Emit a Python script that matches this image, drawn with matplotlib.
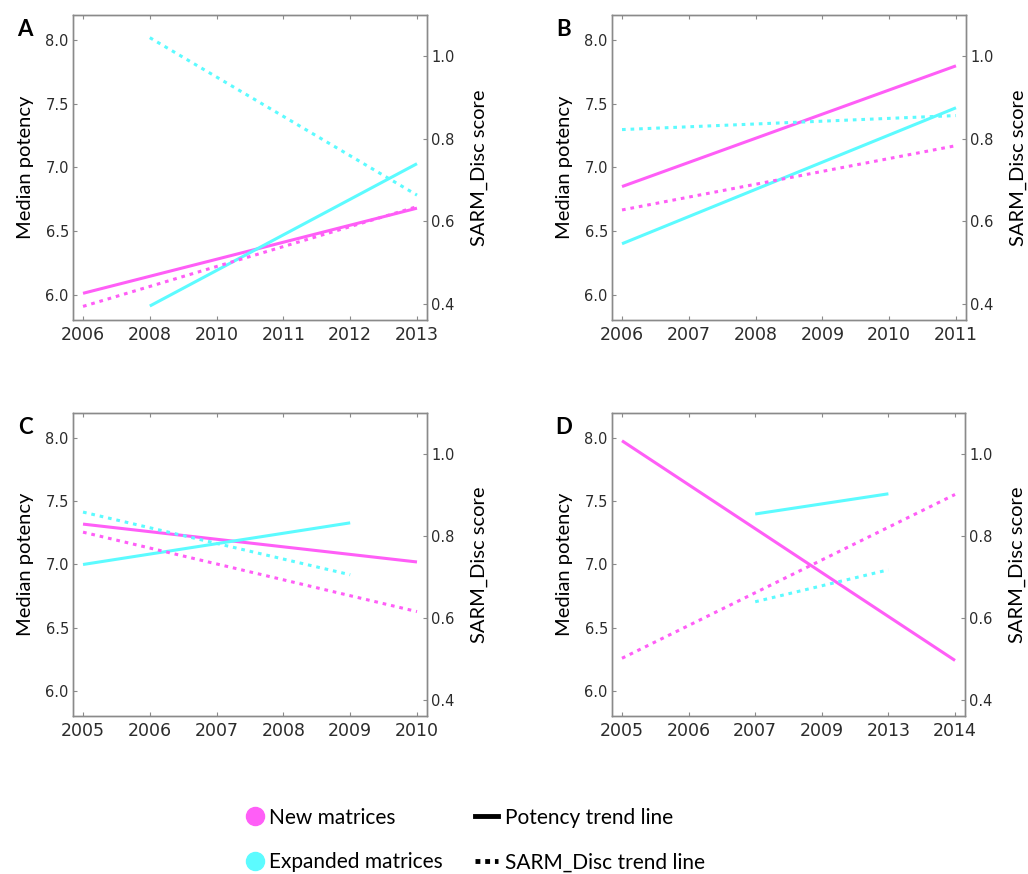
import matplotlib
matplotlib.use("Agg")
import matplotlib.pyplot as plt
from matplotlib.lines import Line2D

MAGENTA = "#FF5EF7"
CYAN = "#5CFBFF"

panels = ["A", "B", "C", "D"]
year_labels = {
    "A": ["2006", "2008", "2010", "2011", "2012", "2013"],
    "B": ["2006", "2007", "2008", "2009", "2010", "2011"],
    "C": ["2005", "2006", "2007", "2008", "2009", "2010"],
    "D": ["2005", "2006", "2007", "2009", "2013", "2014"],
}
# trend line endpoints: (start index, end index), (start value, end value)
new_potency = {
    "A": ((0, 5), (6.01, 6.68)),
    "B": ((0, 5), (6.85, 7.80)),
    "C": ((0, 5), (7.32, 7.02)),
    "D": ((0, 5), (7.98, 6.24)),
}
new_sarm = {
    "A": ((0, 5), (0.393, 0.635)),
    "B": ((0, 5), (0.627, 0.783)),
    "C": ((0, 5), (0.809, 0.615)),
    "D": ((0, 5), (0.501, 0.901)),
}
exp_potency = {
    "A": ((1, 5), (5.91, 7.03)),
    "B": ((0, 5), (6.40, 7.47)),
    "C": ((0, 4), (7.00, 7.33)),
    "D": ((2, 4), (7.40, 7.56)),
}
exp_sarm = {
    "A": ((1, 5), (1.045, 0.663)),
    "B": ((0, 5), (0.822, 0.856)),
    "C": ((0, 4), (0.858, 0.705)),
    "D": ((2, 4), (0.639, 0.717)),
}
left_ticks = [6.0, 6.5, 7.0, 7.5, 8.0]
right_ticks = [0.4, 0.6, 0.8, 1.0]

W, H = 1028, 874
fig = plt.figure(figsize=(W / 100, H / 100), dpi=100)

boxes = {  # left, top, right, bottom in pixels
    "A": (73, 15, 427, 320),
    "B": (612, 15, 966, 320),
    "C": (73, 413, 427, 716),
    "D": (612, 413, 965, 716),
}

SPINE = "#8a8a8a"
TXT = "#2b2b2b"
LABEL_FONT = ["Lato", "DejaVu Sans"]

for p in panels:
    l, t, r, b = boxes[p]
    ax = fig.add_axes([l / W, 1 - b / H, (r - l) / W, (b - t) / H])
    ax2 = ax.twinx()
    lw = 2.2
    (i0, i1), (v0, v1) = new_potency[p]
    ax.plot([i0, i1], [v0, v1], color=MAGENTA, lw=lw, solid_capstyle="butt")
    (i0, i1), (v0, v1) = exp_potency[p]
    ax.plot([i0, i1], [v0, v1], color=CYAN, lw=lw, solid_capstyle="butt")
    (i0, i1), (v0, v1) = new_sarm[p]
    ax2.plot([i0, i1], [v0, v1], color=MAGENTA, lw=lw, ls=(0, (1.2, 1.6)))
    (i0, i1), (v0, v1) = exp_sarm[p]
    ax2.plot([i0, i1], [v0, v1], color=CYAN, lw=lw, ls=(0, (1.2, 1.6)))

    ax.set_xlim(-0.15, 5.15)
    ax.set_ylim(5.8, 8.2)
    ax2.set_ylim(0.36, 1.10)
    ax.set_xticks(range(6))
    ax.set_xticklabels(year_labels[p])
    ax.set_yticks(left_ticks)
    ax.set_yticklabels([f"{v:.1f}" for v in left_ticks])
    ax2.set_yticks(right_ticks)
    ax2.set_yticklabels([f"{v:.1f}" for v in right_ticks])

    ax.tick_params(axis="x", direction="in", length=3, color=SPINE, labelsize=12.5,
                   labelcolor=TXT, top=True, pad=4)
    ax.tick_params(axis="y", direction="in", length=3, color=SPINE, labelsize=10.5,
                   labelcolor=TXT, pad=3)
    ax2.tick_params(axis="y", direction="in", length=3, color=SPINE, labelsize=10.5,
                    labelcolor=TXT, pad=3)
    for a in (ax, ax2):
        for s in a.spines.values():
            s.set_color(SPINE)
            s.set_linewidth(1.0)

    ax.set_ylabel("Median potency", fontsize=14.5, family=LABEL_FONT, labelpad=8,
                  color="black")
    ax2.set_ylabel("SARM_Disc score", fontsize=14.5, family=LABEL_FONT, labelpad=12,
                   color="black")

    fig.text((l - 48) / W, 1 - (t + 15) / H, p, fontsize=16, fontweight="bold",
             family=LABEL_FONT, ha="center", va="center")

marker_handles = [
    Line2D([], [], ls="none", marker="o", ms=13, color=MAGENTA, label="New matrices"),
    Line2D([], [], ls="none", marker="o", ms=13, color=CYAN, label="Expanded matrices"),
]
line_handles = [
    Line2D([], [], color="black", lw=3.5, label="Potency trend line"),
    Line2D([], [], color="black", lw=3.5, ls=(0, (1, 1)), label="SARM_Disc trend line"),
]
leg1 = fig.legend(handles=marker_handles, frameon=False, loc="center left",
                  bbox_to_anchor=(246 / W, 1 - 840 / H),
                  prop={"family": LABEL_FONT, "size": 15},
                  handlelength=0.9, handletextpad=0.22, labelspacing=1.2,
                  borderpad=0, borderaxespad=0)
leg2 = fig.legend(handles=line_handles, frameon=False, loc="center left",
                  bbox_to_anchor=(475 / W, 1 - 840 / H),
                  prop={"family": LABEL_FONT, "size": 15},
                  handlelength=1.1, handletextpad=0.34, labelspacing=1.2,
                  borderpad=0, borderaxespad=0)

fig.savefig("out.png", dpi=100, facecolor="white")
